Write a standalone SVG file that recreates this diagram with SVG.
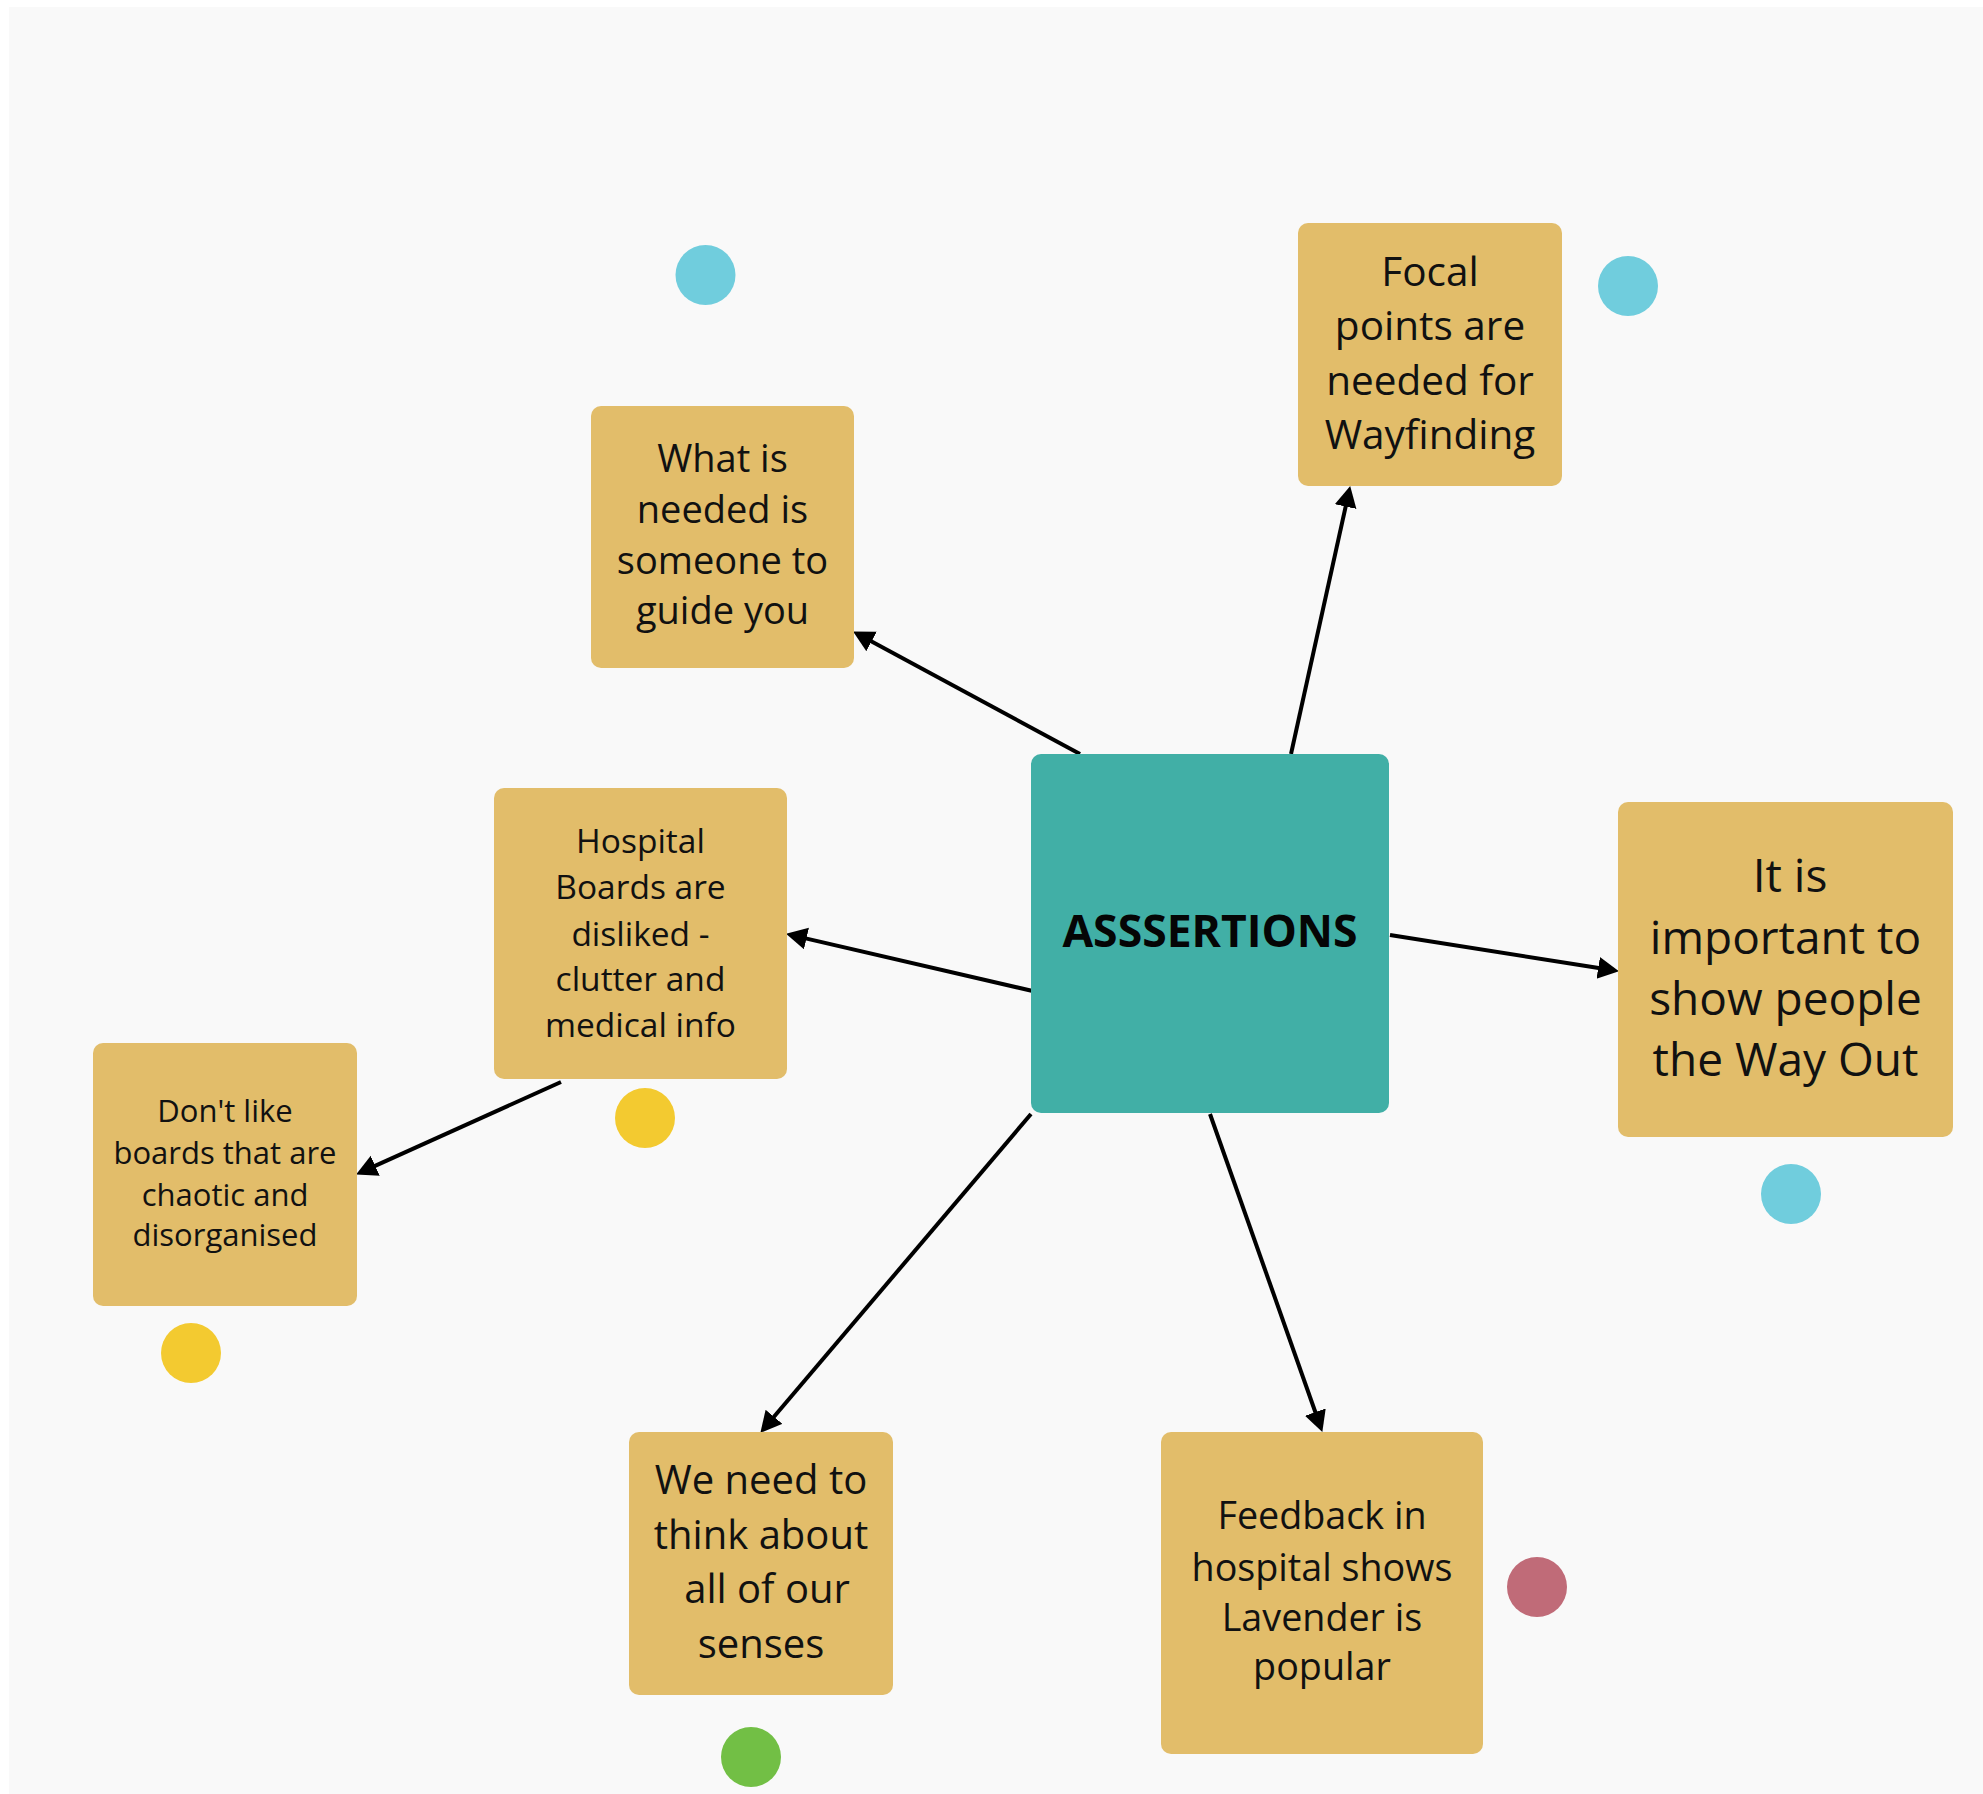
<svg xmlns="http://www.w3.org/2000/svg" width="1983" height="1794" viewBox="0 0 1983 1794">
<defs>
<style>
.note{fill:#e2bd6a}
.hub{fill:#41afa6}
.t{font-family:"Open Sans","Noto Sans","Liberation Sans",sans-serif;fill:#111;text-anchor:middle}
.hubt{font-family:"Open Sans","Noto Sans","Liberation Sans",sans-serif;font-weight:bold;fill:#050505;text-anchor:middle}
.c{stroke:#000;stroke-width:4;fill:none;marker-end:url(#ah)}
</style>
<marker id="ah" markerUnits="userSpaceOnUse" markerWidth="24" markerHeight="24" refX="2" refY="11" orient="auto">
<path d="M0,0 L21,11 L0,22 Z" fill="#000"/>
</marker>
</defs>
<rect x="0" y="0" width="1983" height="1794" fill="#ffffff"/>
<rect x="9" y="7" width="1974" height="1787" fill="#f9f9f9"/>

<g id="connectors">
<line class="c" x1="1080" y1="754" x2="869.8" y2="640.6"/>
<line class="c" x1="1291" y1="754" x2="1346.1" y2="504.6"/>
<line class="c" x1="1390" y1="935" x2="1600.2" y2="968.2"/>
<line class="c" x1="1037" y1="992" x2="804.5" y2="938.1"/>
<line class="c" x1="561" y1="1082" x2="373.4" y2="1166.6"/>
<line class="c" x1="1031" y1="1114" x2="772.7" y2="1418.3"/>
<line class="c" x1="1210" y1="1114" x2="1316" y2="1414"/>
</g>

<g id="assertions">
<rect class="hub" x="1031" y="754" width="358" height="359" rx="10"/>
<text class="hubt" x="1210" y="947" font-size="44.5">ASSSERTIONS</text>
</g>

<g id="guide">
<rect class="note" x="591" y="406" width="263" height="262" rx="10"/>
<text class="t" font-size="38" x="722.5"><tspan x="722.5" y="472">What is</tspan><tspan x="722.5" y="523">needed is</tspan><tspan x="722.5" y="574">someone to</tspan><tspan x="722.5" y="624">guide you</tspan></text>
</g>

<g id="focal">
<rect class="note" x="1298" y="223" width="264" height="263" rx="10"/>
<text class="t" font-size="40.5" x="1430"><tspan x="1430" y="286">Focal</tspan><tspan x="1430" y="340">points are</tspan><tspan x="1430" y="395">needed for</tspan><tspan x="1430" y="449">Wayfinding</tspan></text>
</g>

<g id="wayout">
<rect class="note" x="1618" y="802" width="335" height="335" rx="10"/>
<text class="t" font-size="46" x="1785.5"><tspan x="1790" y="892">It is</tspan><tspan x="1785.5" y="954">important to</tspan><tspan x="1785.5" y="1015">show people</tspan><tspan x="1785.5" y="1076">the Way Out</tspan></text>
</g>

<g id="boards">
<rect class="note" x="494" y="788" width="293" height="291" rx="10"/>
<text class="t" font-size="33.5" x="640.5"><tspan x="640.5" y="853">Hospital</tspan><tspan x="640.5" y="899">Boards are</tspan><tspan x="640.5" y="946">disliked -</tspan><tspan x="640.5" y="991">clutter and</tspan><tspan x="640.5" y="1037">medical info</tspan></text>
</g>

<g id="chaotic">
<rect class="note" x="93" y="1043" width="264" height="263" rx="10"/>
<text class="t" font-size="31" x="225"><tspan x="225" y="1122">Don't like</tspan><tspan x="225" y="1164">boards that are</tspan><tspan x="225" y="1206">chaotic and</tspan><tspan x="225" y="1246">disorganised</tspan></text>
</g>

<g id="senses">
<rect class="note" x="629" y="1432" width="264" height="263" rx="10"/>
<text class="t" font-size="40" x="761"><tspan x="761" y="1494">We need to</tspan><tspan x="761" y="1549">think about</tspan><tspan x="767" y="1603">all of our</tspan><tspan x="761" y="1658">senses</tspan></text>
</g>

<g id="lavender">
<rect class="note" x="1161" y="1432" width="322" height="322" rx="10"/>
<text class="t" font-size="37.7" x="1322"><tspan x="1322" y="1529">Feedback in</tspan><tspan x="1322" y="1581">hospital shows</tspan><tspan x="1322" y="1631">Lavender is</tspan><tspan x="1322" y="1680">popular</tspan></text>
</g>

<g id="dots">
<circle cx="705.5" cy="275" r="30" fill="#70cddd"/>
<circle cx="1628" cy="286" r="30" fill="#70cddd"/>
<circle cx="1791" cy="1194" r="30" fill="#70cddd"/>
<circle cx="645" cy="1118" r="30" fill="#f3ca30"/>
<circle cx="191" cy="1353" r="30" fill="#f3ca30"/>
<circle cx="751" cy="1757" r="30" fill="#72bf45"/>
<circle cx="1537" cy="1587" r="30" fill="#c06b78"/>
</g>
</svg>
